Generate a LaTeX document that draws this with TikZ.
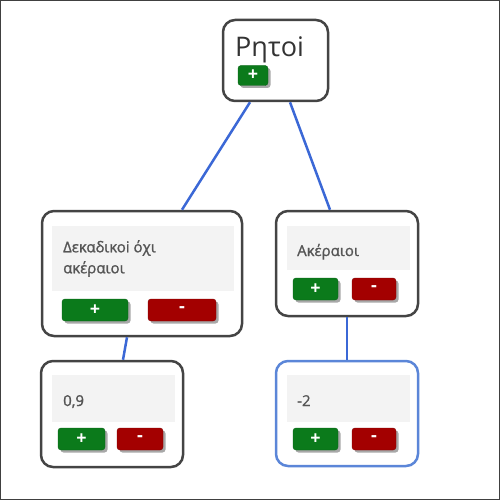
\documentclass[tikz,border=0pt]{standalone}
\usepackage{fontspec}
\setmainfont{Open Sans}
\newfontfamily\semib{Open Sans}[FakeBold=1.2]
\usetikzlibrary{shadows}
\definecolor{txt}{HTML}{555555}
\definecolor{roottxt}{HTML}{333333}
\definecolor{boxgray}{HTML}{444444}
\definecolor{panelfill}{HTML}{F3F3F3}
\definecolor{edgeblue}{HTML}{3B68D6}
\definecolor{selblue}{HTML}{5B86D8}
\definecolor{btngreen}{HTML}{0B7A1B}
\definecolor{btnred}{HTML}{A30000}
\definecolor{shade}{HTML}{A8A8A8}
\tikzset{
  box/.style={rectangle, draw=boxgray, line width=2.5pt, rounded corners=12pt, fill=white, inner sep=0pt},
  selbox/.style={box, draw=selblue},
  panel/.style={rectangle, fill=panelfill, inner sep=0pt},
  lbl/.style={text=txt, font=\semib\fontsize{15}{21}\selectfont, inner sep=0pt, align=left},
  btn/.style={rectangle, rounded corners=3pt, inner sep=0pt, minimum height=22pt, text=white,
     font=\fontsize{18}{18}\selectfont\bfseries,
     drop shadow={shadow xshift=2.5pt, shadow yshift=-2.5pt, fill=shade, opacity=1}},
  plusbtn/.style={btn, fill=btngreen, draw=btngreen!80!black},
  minusbtn/.style={btn, fill=btnred, draw=btnred!80!black},
  edge/.style={draw=edgeblue, line width=2.5pt}
}
\begin{document}
\begin{tikzpicture}[x=1pt,y=-1pt]
\useasboundingbox (0,0) rectangle (500,500);
\draw[line width=1pt, black!75] (0.5,0.5) rectangle (499.5,499.5);

% boxes
\node[box, minimum width=105pt, minimum height=81pt] (root) at (275.5,60.5) {};
\node[box, minimum width=200pt, minimum height=125pt] (L) at (142,273.5) {};
\node[box, minimum width=142pt, minimum height=105pt] (R) at (347,263.5) {};
\node[box, minimum width=142pt, minimum height=106pt] (BL) at (112,414) {};
\node[selbox, minimum width=142pt, minimum height=105pt] (BR) at (347,413.5) {};

% connectors
\draw[edge] ([xshift=-25.5pt]root.south) -- ([xshift=40pt]L.north);
\draw[edge] ([xshift=14.5pt]root.south) -- ([xshift=-17pt]R.north);
\draw[edge] ([xshift=-15pt]L.south) -- ([xshift=11pt]BL.north);
\draw[edge] (R.south) -- (BR.north);

% root content
\node[anchor=base west, text=roottxt, font=\fontsize{27}{27}\selectfont, inner sep=0pt] (roott) at (235,57) {Ρητοi};
\node[plusbtn, minimum width=30pt, minimum height=20pt] (rootplus) at (253,75.5) {+};

% left box content
\node[panel, minimum width=182pt, minimum height=65pt] (Lp) at (143,258.5) {};
\node[lbl, anchor=north west] (Lt) at (63,240) {Δεκαδικοi όχι\\ακέραιοι};
\node[plusbtn, minimum width=66pt] (Lplus) at (95,310) {+};
\node[minusbtn, minimum width=68pt] (Lminus) at (182,310) {-};

% right box content
\node[panel, minimum width=123pt, minimum height=44pt] (Rp) at (348.5,248) {};
\node[lbl, anchor=base west] (Rt) at (297,256) {Ακέραιοι};
\node[plusbtn, minimum width=45pt] (Rplus) at (315.5,289) {+};
\node[minusbtn, minimum width=44pt] (Rminus) at (374,289) {-};

% bottom-left content
\node[panel, minimum width=123pt, minimum height=47pt] (BLp) at (113.5,398.5) {};
\node[lbl, anchor=base west] (BLt) at (63,406) {0,9};
\node[plusbtn, minimum width=47pt] (BLplus) at (81.5,439) {+};
\node[minusbtn, minimum width=46pt] (BLminus) at (140,439) {-};

% bottom-right content
\node[panel, minimum width=123pt, minimum height=47pt] (BRp) at (348.5,398.5) {};
\node[lbl, anchor=base west] (BRt) at (297,406) {-2};
\node[plusbtn, minimum width=45pt] (BRplus) at (315.5,439) {+};
\node[minusbtn, minimum width=44pt] (BRminus) at (374,439) {-};
\end{tikzpicture}
\end{document}
